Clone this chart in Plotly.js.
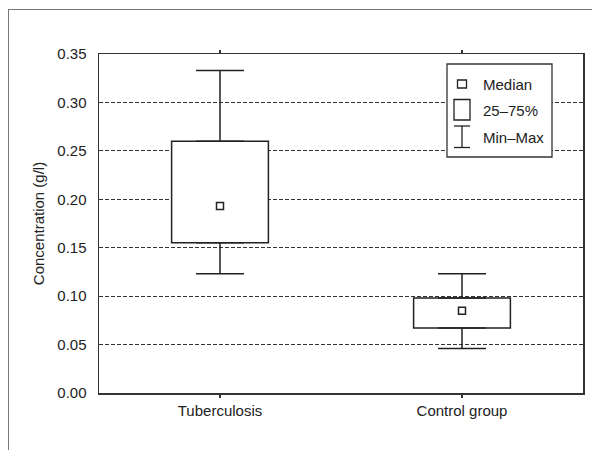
<!DOCTYPE html>
<html><head><meta charset="utf-8">
<script src="https://cdn.plot.ly/plotly-3.0.1.min.js"></script>
<style>
html,body{margin:0;padding:0;background:#fff;}
#wrap{position:relative;width:592px;height:450px;overflow:hidden;}
#chart{position:absolute;left:0;top:0;width:592px;height:450px;}
#frame{position:absolute;left:7.5px;top:8.5px;width:620px;height:480px;border-left:1.5px solid #777;border-top:1.5px solid #777;pointer-events:none;}
</style></head><body>
<div id="wrap"><div id="chart"></div><div id="frame"></div></div>
<script>
// ---- data ----
const categories = ['Tuberculosis', 'Control group'];
const minVals    = [0.123, 0.046];
const q1Vals     = [0.155, 0.067];
const medianVals = [0.193, 0.085];
const q3Vals     = [0.260, 0.098];
const maxVals    = [0.333, 0.123];
const yTickVals  = [0, 0.05, 0.10, 0.15, 0.20, 0.25, 0.30, 0.35];
const yTickText  = ['0.00', '0.05', '0.10', '0.15', '0.20', '0.25', '0.30', '0.35'];
const legendLabels = ['Median', '25–75%', 'Min–Max'];
const yTitle = 'Concentration (g/l)';

// ---- style ----
const FONT = '"Liberation Sans", Arial, sans-serif';
const FS = 15;
const INK = '#222';
const AX = '#333';
const W = 592, H = 450;
const PL = 99, PR = 583, PT = 54, PB = 393;
const fx = px => (px - PL) / (PR - PL);
const fy = py => (PB - py) / (PB - PT);

const boxHeights = q3Vals.map((q, i) => q - q1Vals[i]);
const upperErr = maxVals.map((m, i) => m - q3Vals[i]);
const lowerErr = q1Vals.map((q, i) => q - minVals[i]);
const zeros = categories.map(() => 0);

const traces = [
  { type: 'bar', x: categories, base: q1Vals, y: boxHeights, width: 0.4,
    marker: { color: '#fff', line: { color: INK, width: 1.5 } },
    hoverinfo: 'skip', showlegend: false },
  { type: 'scatter', mode: 'markers', x: categories, y: q3Vals,
    marker: { opacity: 0, size: 1 },
    error_y: { type: 'data', symmetric: false, array: upperErr, arrayminus: zeros,
               width: 24, thickness: 1.5, color: INK },
    hoverinfo: 'skip', showlegend: false },
  { type: 'scatter', mode: 'markers', x: categories, y: q1Vals,
    marker: { opacity: 0, size: 1 },
    error_y: { type: 'data', symmetric: false, array: zeros, arrayminus: lowerErr,
               width: 24, thickness: 1.5, color: INK },
    hoverinfo: 'skip', showlegend: false },
  { type: 'scatter', mode: 'markers', x: categories, y: medianVals,
    marker: { symbol: 'square-open', size: 7, color: INK, line: { width: 1.5, color: INK } },
    showlegend: false }
];

// ---- hand-built legend (layout decoration) ----
const shapes = [
  { type: 'rect', xref: 'paper', yref: 'paper', layer: 'above',
    x0: fx(447), x1: fx(552), y0: fy(157), y1: fy(64),
    fillcolor: '#fff', line: { color: AX, width: 1.3 } },
  { type: 'rect', xref: 'paper', yref: 'paper', layer: 'above',
    x0: fx(457.5), x1: fx(466.5), y0: fy(88), y1: fy(80),
    fillcolor: '#fff', line: { color: INK, width: 1.3 } },
  { type: 'rect', xref: 'paper', yref: 'paper', layer: 'above',
    x0: fx(454), x1: fx(470), y0: fy(120), y1: fy(99.5),
    fillcolor: '#fff', line: { color: INK, width: 1.3 } },
  { type: 'line', xref: 'paper', yref: 'paper', layer: 'above',
    x0: fx(454), x1: fx(470), y0: fy(126), y1: fy(126), line: { color: INK, width: 1.3 } },
  { type: 'line', xref: 'paper', yref: 'paper', layer: 'above',
    x0: fx(454), x1: fx(470), y0: fy(147.5), y1: fy(147.5), line: { color: INK, width: 1.3 } },
  { type: 'line', xref: 'paper', yref: 'paper', layer: 'above',
    x0: fx(462), x1: fx(462), y0: fy(126), y1: fy(147.5), line: { color: INK, width: 1.3 } }
];
const legendY = [84, 110, 137];
const annotations = legendLabels.map((t, i) => ({
  text: t, xref: 'paper', yref: 'paper', x: fx(481), y: fy(legendY[i]),
  xanchor: 'left', yanchor: 'middle', showarrow: false,
  font: { family: FONT, size: FS, color: INK }
}));

const layout = {
  width: W, height: H,
  margin: { l: PL, r: W - PR, t: PT, b: H - PB, pad: 0 },
  paper_bgcolor: '#fff', plot_bgcolor: '#fff',
  showlegend: false,
  font: { family: FONT, size: FS, color: INK },
  xaxis: {
    type: 'category', range: [-0.5, 1.5],
    showline: true, linecolor: AX, linewidth: 1.5, mirror: 'ticks',
    ticks: 'outside', ticklen: 3, tickwidth: 1.3, tickcolor: AX,
    showgrid: false, zeroline: false,
    tickfont: { family: FONT, size: FS, color: INK }
  },
  yaxis: {
    range: [0, 0.35], tickvals: yTickVals, ticktext: yTickText,
    showline: true, linecolor: AX, linewidth: 1.5, mirror: true,
    ticks: '', showgrid: true, gridcolor: AX, gridwidth: 1, griddash: '4px,2px',
    zeroline: false, ticklabelstandoff: 8,
    tickfont: { family: FONT, size: FS, color: INK },
    title: { text: yTitle, font: { family: FONT, size: 15, color: INK }, standoff: 9 }
  },
  shapes: shapes,
  annotations: annotations
};

Plotly.newPlot('chart', traces, layout, { staticPlot: true, displayModeBar: false });
</script>
</body></html>
